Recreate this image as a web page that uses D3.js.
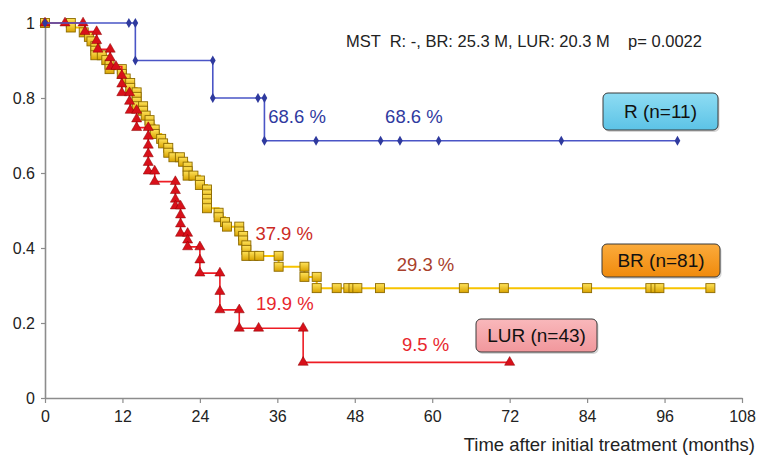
<!DOCTYPE html>
<html>
<head>
	<meta charset="utf-8">
	<script src="https://d3js.org/d3.v7.min.js"></script>
	<title>Survival curves</title>
	<style>
		body { margin: 0; background: #fff; }
		text { font-family: "Liberation Sans", Arial, Helvetica, sans-serif; }
	</style>
</head>
<body>
	<div id="chart"></div>

	<script type="text/javascript">

		/* data: [months, survival] */
		var rPoints = [[0,1],[13,1],[14,1],[14,0.9],[26,0.9],[26,0.8],[33,0.8],[34,0.8],[34,0.686],
			[42,0.686],[52,0.686],[55,0.686],[61,0.686],[80,0.686],[98,0.686]];

		var brPoints = [[0,1],[4,1],[4,0.988],[6,0.975],[6.8,0.963],[7.2,0.951],[7.8,0.938],[7.8,0.926],
			[7.8,0.914],[8.8,0.914],[9.5,0.901],[10,0.889],[10,0.877],[11.9,0.877],[11.9,0.864],[12.5,0.852],
			[13.2,0.84],[13.2,0.827],[14.2,0.815],[14.2,0.803],[14.2,0.79],[14.2,0.778],[15.2,0.778],[15.2,0.766],
			[15.6,0.753],[16.2,0.741],[16.2,0.729],[17,0.716],[17,0.704],[18,0.691],[18.3,0.679],[19.1,0.667],
			[19.1,0.654],[19.9,0.642],[20.9,0.642],[21.4,0.63],[22.1,0.617],[22.1,0.605],[22.1,0.593],[23,0.593],
			[24,0.58],[24,0.568],[25.1,0.556],[25.1,0.543],[25.1,0.531],[25.1,0.519],[25.1,0.506],[26.9,0.494],
			[26.9,0.482],[27.9,0.469],[28.2,0.457],[30.1,0.457],[30.1,0.444],[30.7,0.432],[30.7,0.42],
			[31.2,0.407],[31.2,0.395],[31.2,0.379],[32.3,0.379],[33.2,0.379],[36.2,0.379],[36.2,0.35],
			[40.2,0.35],[40.2,0.323],[42.1,0.323],[42.1,0.293],[45.2,0.293],[47,0.293],[47.8,0.293],
			[48.4,0.293],[51.9,0.293],[64.9,0.293],[71.1,0.293],[84,0.293],[93.8,0.293],[94.6,0.293],
			[95.2,0.293],[103.1,0.293]];

		var lurPoints = [[0,1],[3.1,1],[5.9,1],[6.2,0.977],[8,0.977],[8,0.953],[8.2,0.93],[10.1,0.93],
			[10.1,0.907],[10.2,0.884],[11,0.884],[11.9,0.86],[11.9,0.837],[11.9,0.814],[13.1,0.814],
			[13.1,0.791],[13.2,0.767],[14.2,0.767],[14.2,0.744],[14.2,0.721],[16,0.721],[16,0.698],[16,0.674],
			[16,0.651],[16,0.628],[16,0.605],[17,0.605],[17,0.577],[20.2,0.577],[20.2,0.553],[20.2,0.53],
			[20.2,0.512],[21,0.512],[21,0.488],[21,0.464],[21,0.439],[22.1,0.439],[22.1,0.421],[22.1,0.403],
			[24,0.403],[24,0.368],[24,0.333],[27.1,0.333],[27.1,0.284],[27.1,0.235],[30.1,0.235],[30.1,0.186],
			[33.1,0.186],[40,0.186],[40,0.095],[72,0.095]];

		var xTicks = [0, 12, 24, 36, 48, 60, 72, 84, 96, 108];
		var yTicks = [0, 0.2, 0.4, 0.6, 0.8, 1];
		var groupNames = ["R (n=11)", "BR (n=81)", "LUR (n=43)"];
		var pctTexts = ["68.6 %", "68.6 %", "37.9 %", "29.3 %", "19.9 %", "9.5 %"];
		var headerText = "MST  R: -, BR: 25.3 M, LUR: 20.3 M    p= 0.0022";
		var xTitle = "Time after initial treatment (months)";

		var width = 757, height = 459;

		var svg = d3.select("#chart").append("svg")
			.attr("width", width)
			.attr("height", height);

		var x = d3.scaleLinear().domain([0, 108]).range([45, 742]);
		var y = d3.scaleLinear().domain([0, 1]).range([398, 23]);

		// gradients for the square markers and legend boxes
		var defs = svg.append("defs");
		function grad(id, c1, c2) {
			var g = defs.append("linearGradient").attr("id", id)
				.attr("x1", 0).attr("y1", 0).attr("x2", 0).attr("y2", 1);
			g.append("stop").attr("offset", "0%").attr("stop-color", c1);
			g.append("stop").attr("offset", "100%").attr("stop-color", c2);
		}
		grad("gSq", "#ffe35a", "#d9a300");
		grad("gR", "#8edcf3", "#5cc3e6");
		grad("gBR", "#fbab3c", "#f08a0c");
		grad("gLUR", "#f9b8bb", "#f1979c");

		// axes
		var xAxis = d3.axisBottom(x).tickValues(xTicks).tickSize(5).tickSizeOuter(0).tickPadding(8);
		var yAxis = d3.axisLeft(y).tickValues(yTicks).tickSize(4).tickSizeOuter(0).tickPadding(6)
			.tickFormat(function(d) { return (d == 0 || d == 1) ? d : d.toFixed(1); });

		var gx = svg.append("g").attr("transform", "translate(0," + y(0) + ")").call(xAxis);
		var gy = svg.append("g").attr("transform", "translate(" + x(0) + ",0)").call(yAxis);
		[gx, gy].forEach(function(g) {
			g.select(".domain").attr("stroke", "#8c8c8c").attr("stroke-width", 1.6);
			g.selectAll(".tick line").attr("stroke", "#8c8c8c").attr("stroke-width", 1.2);
			g.selectAll(".tick text").attr("fill", "#222")
				.style("font-family", "'Liberation Sans Narrow', 'Liberation Sans', Arial, sans-serif")
				.style("font-size", "16px");
		});

		svg.append("text")
			.attr("x", 755).attr("y", 451)
			.attr("text-anchor", "end")
			.attr("fill", "#222")
			.style("font-size", "18.5px")
			.text(xTitle);

		// step lines
		var step = d3.line()
			.x(function(d) { return x(d[0]); })
			.y(function(d) { return y(d[1]); })
			.curve(d3.curveStepAfter);

		// BR
		svg.append("path").datum(brPoints)
			.attr("d", step).attr("fill", "none")
			.attr("stroke", "#f7c300").attr("stroke-width", 2);
		svg.selectAll(".brmark").data(brPoints).enter()
			.append("rect")
			.attr("class", "brmark")
			.attr("x", function(d) { return x(d[0]) - 4.5; })
			.attr("y", function(d) { return y(d[1]) - 4.5; })
			.attr("width", 9).attr("height", 9)
			.attr("fill", "url(#gSq)")
			.attr("stroke", "#8d6a00").attr("stroke-width", 0.9);

		// LUR
		svg.append("path").datum(lurPoints)
			.attr("d", step).attr("fill", "none")
			.attr("stroke", "#ee1c24").attr("stroke-width", 1.6);
		svg.selectAll(".lurmark").data(lurPoints).enter()
			.append("path")
			.attr("class", "lurmark")
			.attr("transform", function(d) { return "translate(" + x(d[0]) + "," + y(d[1]) + ")"; })
			.attr("d", d3.symbol().type(d3.symbolTriangle).size(44))
			.attr("fill", "#d8101a")
			.attr("stroke", "#8a0000").attr("stroke-width", 0.5);

		// R
		svg.append("path").datum(rPoints)
			.attr("d", step).attr("fill", "none")
			.attr("stroke", "#4a55c6").attr("stroke-width", 1.6);
		svg.selectAll(".rmark").data(rPoints).enter()
			.append("path")
			.attr("class", "rmark")
			.attr("transform", function(d) { return "translate(" + x(d[0]) + "," + y(d[1]) + ")"; })
			.attr("d", d3.symbol().type(d3.symbolDiamond).size(28))
			.attr("fill", "#2f3a9e");

		// percentage labels
		var pctPos = [[34.6, 0.733], [52.7, 0.733], [32.6, 0.421], [54.5, 0.338], [32.7, 0.234], [55.3, 0.125]];
		var pctColors = ["#2f3aa0", "#2f3aa0", "#cc2a24", "#a8402c", "#e8262c", "#e8262c"];
		svg.selectAll(".pct").data(pctTexts).enter()
			.append("text")
			.attr("class", "pct")
			.attr("x", function(d, i) { return x(pctPos[i][0]); })
			.attr("y", function(d, i) { return y(pctPos[i][1]); })
			.attr("fill", function(d, i) { return pctColors[i]; })
			.style("font-size", "18.5px")
			.text(function(d) { return d; });

		// header
		svg.append("text")
			.attr("x", 346).attr("y", 47)
			.attr("xml:space", "preserve")
			.attr("fill", "#222")
			.style("font-size", "16.5px")
			.style("white-space", "pre")
			.text(headerText);

		// legend boxes
		var boxes = [[603, 93, 115, 37, "url(#gR)"], [602, 244, 118, 33, "url(#gBR)"], [476, 319, 121, 33, "url(#gLUR)"]];
		boxes.forEach(function(b, i) {
			svg.append("rect")
				.attr("x", b[0] + 1.5).attr("y", b[1] + 2)
				.attr("width", b[2]).attr("height", b[3])
				.attr("rx", 5).attr("fill", "#bbb").attr("opacity", 0.6);
			svg.append("rect")
				.attr("x", b[0]).attr("y", b[1])
				.attr("width", b[2]).attr("height", b[3])
				.attr("rx", 5)
				.attr("fill", b[4])
				.attr("stroke", "#3a3a3a").attr("stroke-width", 1);
			svg.append("text")
				.attr("x", b[0] + b[2] / 2).attr("y", b[1] + b[3] / 2 + 6.5)
				.attr("text-anchor", "middle")
				.attr("fill", "#111")
				.style("font-size", "19px")
				.text(groupNames[i]);
		});

	</script>
</body>
</html>
